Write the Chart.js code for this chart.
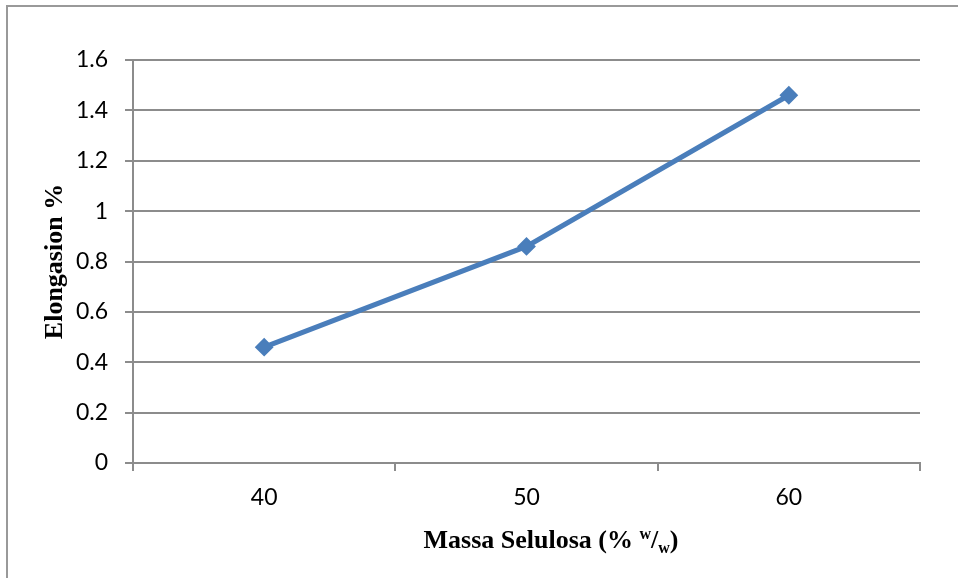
<!DOCTYPE html>
<html>
<head>
<meta charset="utf-8">
<script src="https://cdn.jsdelivr.net/npm/chart.js@4/dist/chart.umd.min.js"></script>
<style>
  body { margin: 0; background: #fff; }
  #wrap { position: relative; width: 958px; height: 578px; }
  #frame { position: absolute; left: 6px; top: 5px; right: -10px; bottom: -10px;
           border-left: 2px solid #999; border-top: 2px solid #999; pointer-events: none; }
</style>
</head>
<body>
<div id="wrap">
  <canvas id="chart" width="958" height="578"></canvas>
  <div id="frame"></div>
</div>
<script>
const categories = ['40', '50', '60'];
const elongation = [0.46, 0.86, 1.46];
const yMin = 0;
const yMax = 1.6;
const yStep = 0.2;

const lineColor = '#4a7ebb';
const gridColor = '#8c8c8c';

// axis titles drawn by hand so the x title can carry the w/w super/subscript
const axisTitles = {
  id: 'axisTitles',
  afterDraw(chart) {
    const ctx = chart.ctx;
    const area = chart.chartArea;
    ctx.save();
    ctx.fillStyle = '#000';
    ctx.textBaseline = 'alphabetic';

    // y title
    ctx.font = 'bold 26px "Liberation Serif", "Times New Roman", serif';
    ctx.translate(62, (area.top + area.bottom) / 2);
    ctx.rotate(-Math.PI / 2);
    ctx.textAlign = 'center';
    ctx.fillText('Elongasion %', 0, 0);
    ctx.restore();

    // x title: "Massa Selulosa (% w/w)"
    ctx.save();
    ctx.fillStyle = '#000';
    ctx.textBaseline = 'alphabetic';
    const big = 'bold 26px "Liberation Serif", "Times New Roman", serif';
    const small = 'bold 16px "Liberation Serif", "Times New Roman", serif';
    const parts = [
      { t: 'Massa Selulosa (% ', f: big, dy: 0 },
      { t: 'w', f: small, dy: -9 },
      { t: '/', f: big, dy: 0 },
      { t: 'w', f: small, dy: 5 },
      { t: ')', f: big, dy: 0 }
    ];
    let total = 0;
    parts.forEach(p => { ctx.font = p.f; p.w = ctx.measureText(p.t).width; total += p.w; });
    let x = 551 - total / 2;
    const base = 548;
    ctx.textAlign = 'left';
    parts.forEach(p => {
      ctx.font = p.f;
      ctx.fillText(p.t, x, base + p.dy);
      x += p.w;
    });
    ctx.restore();
  }
};

new Chart(document.getElementById('chart'), {
  type: 'line',
  data: {
    labels: categories,
    datasets: [{
      label: 'Elongasion %',
      data: elongation,
      borderColor: lineColor,
      backgroundColor: lineColor,
      borderWidth: 5,
      pointStyle: 'rectRot',
      pointRadius: 8,
      pointBorderWidth: 2,
      pointBackgroundColor: lineColor,
      pointBorderColor: lineColor,
      tension: 0
    }]
  },
  options: {
    responsive: false,
    animation: false,
    layout: { padding: { left: 0, top: 60, right: 38, bottom: 0 } },
    plugins: {
      legend: { display: false },
      tooltip: { enabled: false }
    },
    scales: {
      x: {
        offset: true,
        grid: {
          offset: true,
          drawOnChartArea: false,
          drawTicks: true,
          tickLength: 8,
          color: gridColor,
          lineWidth: 2
        },
        border: { color: gridColor, width: 2 },
        ticks: {
          color: '#000',
          padding: 13,
          font: { family: 'Lato, "Open Sans", sans-serif', size: 23 }
        },
        afterFit(scale) { scale.height = 115; }
      },
      y: {
        min: yMin,
        max: yMax,
        grid: {
          color: gridColor,
          lineWidth: 2,
          tickLength: 8
        },
        border: { color: gridColor, width: 2 },
        ticks: {
          stepSize: yStep,
          color: '#000',
          padding: 17,
          font: { family: 'Lato, "Open Sans", sans-serif', size: 23 },
          callback: v => String(+Number(v).toFixed(1))
        },
        afterFit(scale) { scale.width = 133; }
      }
    }
  },
  plugins: [axisTitles]
});
</script>
</body>
</html>
